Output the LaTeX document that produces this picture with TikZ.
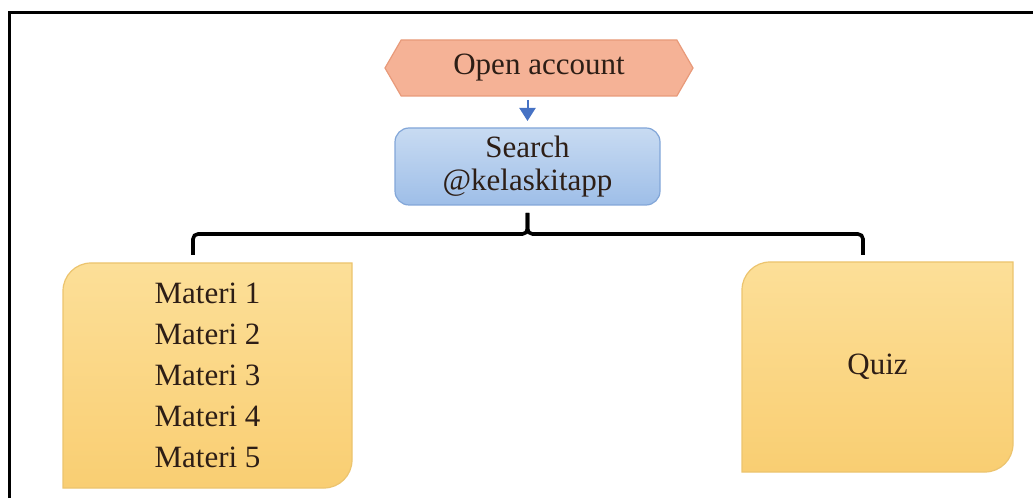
\documentclass[tikz,border=0pt]{standalone}
\usepackage{fontspec}
\setmainfont{Liberation Serif}
\usetikzlibrary{shapes.symbols,backgrounds,calc,arrows.meta}
\definecolor{salmon}{RGB}{245,178,150}
\definecolor{salmonline}{RGB}{232,154,122}
\definecolor{skytop}{RGB}{200,219,242}
\definecolor{skybot}{RGB}{158,190,232}
\definecolor{skyline}{RGB}{130,166,216}
\definecolor{arrowblue}{RGB}{70,114,196}
\definecolor{cardtop}{RGB}{252,223,152}
\definecolor{cardbot}{RGB}{249,206,114}
\definecolor{cardline}{RGB}{236,196,110}
\definecolor{ink}{RGB}{45,30,22}

\begin{document}
\begin{tikzpicture}[x=.5pt,y=.5pt,
    every node/.style={text=ink,font=\fontsize{15.5}{17}\selectfont,outer sep=0pt},
    card/.style={top color=cardtop,bottom color=cardbot,draw=cardline,line width=.6pt},
    bracket/.style={line width=1.8pt,rounded corners=2.5pt},
  ]
    \def\r{14pt}
    \useasboundingbox (0,0) rectangle (1033,498);
    \draw[line width=1.5pt] (9,0) -- (9,485) -- (1033,485);

    \node (open) [
      shape=signal,
      signal to=east and west,
      signal pointer angle=120,
      minimum width=154pt,
      minimum height=28pt,
      inner sep=0pt,
      fill=salmon,
      draw=salmonline,
      line width=.6pt
      ] at (539,430) {Open account};

    \node (search) [
      rounded corners=7pt,
      top color=skytop,
      bottom color=skybot,
      draw=skyline,
      line width=.6pt,
      minimum width=132.5pt,
      minimum height=38.5pt,
      align=center,
      font=\fontsize{15.5}{16.5}\selectfont
      ] at (527.5,331.5) {Search\\@kelaskitapp};

    \node (materi) [minimum width=144.5pt, minimum height=112.5pt, align=center,
      font=\fontsize{15.5}{20.5}\selectfont] at (207.5,122.5)
      {Materi 1\\Materi 2\\Materi 3\\Materi 4\\Materi 5};
    \node (quiz) [minimum width=135.5pt, minimum height=105pt] at (877.5,131) {Quiz};

    \begin{scope}[on background layer]
      \foreach \n in {materi,quiz}
        \draw[card] (\n.north east) -- ([yshift=\r]\n.south east)
          arc[start angle=0,end angle=-90,radius=\r] -- (\n.south west)
          -- ([yshift=-\r]\n.north west)
          arc[start angle=180,end angle=90,radius=\r] -- cycle;
    \end{scope}

    \draw[arrowblue, line width=1pt, -{Triangle[width=8pt,length=6.5pt]},
      shorten <=2pt, shorten >=3.5pt] (open.south -| search.north) -- (search.north);

    % brace from search to both cards
    \coordinate (tip) at ($(search.south)+(0,-8)$);
    \coordinate (hl) at ($(tip)+(0,-21)$);
    \coordinate (bl) at ($(materi.north)+(-14.5,8)$);
    \coordinate (br) at ($(quiz.north)+(-14.5,7)$);
    \draw[bracket] (bl) -- (bl |- hl) -- (hl) -- (tip);
    \draw[bracket] (br) -- (br |- hl) -- (hl) -- (tip);
\end{tikzpicture}
\end{document}
